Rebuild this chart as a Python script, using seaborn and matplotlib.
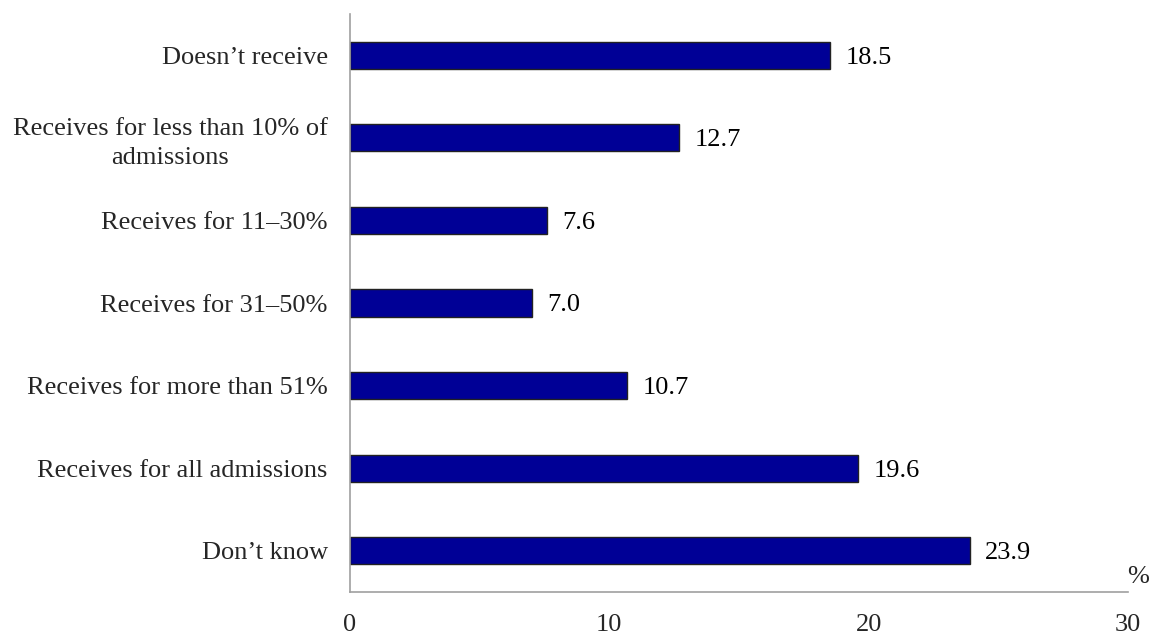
import numpy as np
import pandas as pd
import seaborn as sns
import matplotlib.pyplot as plt
from matplotlib.ticker import FixedLocator

# Data
categories = [
    "Doesn\u2019t receive",
    "Receives for less than 10% of\nadmissions",
    "Receives for 11\u201330%",
    "Receives for 31\u201350%",
    "Receives for more than 51%",
    "Receives for all admissions",
    "Don\u2019t know",
]
values = [18.5, 12.7, 7.6, 7.0, 10.7, 19.6, 23.9]
x_ticks = [0, 10, 20, 30]

df = pd.DataFrame({"category": categories, "value": values})

sns.set_style("white")
plt.rcParams["font.family"] = ["Liberation Serif", "DejaVu Serif"]

fig = plt.figure(figsize=(11.53, 6.34), dpi=100)
ax = fig.add_axes([350 / 1153, 1 - 592 / 634, (1128 - 350) / 1153, (592 - 14) / 634])

sns.barplot(data=df, x="value", y="category", orient="h", color="#000096",
            saturation=1, width=0.33, edgecolor="#222222", linewidth=1.0, ax=ax)

ax.set_xlim(0, 30)
ax.set_ylim(len(categories) - 0.5, -0.5)
ax.set_xticks(x_ticks)
ax.set_xlabel("")
ax.set_ylabel("")

# value labels
for i, v in enumerate(values):
    ax.text(v + 0.6, i + 0.03, f"{v:.1f}", va="center", ha="left", fontsize=19, color="black")

# "%" unit label
ax.text(29.97, 6.39, "%", ha="left", va="baseline", fontsize=19)

for side in ["top", "right"]:
    ax.spines[side].set_visible(False)
for side in ["left", "bottom"]:
    ax.spines[side].set_color("#A0A0A0")
    ax.spines[side].set_linewidth(1.2)

ax.tick_params(axis="y", which="major", length=0, pad=16, labelsize=19)
for lbl in ax.get_yticklabels():
    lbl.set_multialignment("center")
    lbl.set_linespacing(1.4)
ax.yaxis.set_minor_locator(FixedLocator(np.arange(-0.5, len(categories), 1.0)))
ax.tick_params(axis="y", which="minor", length=6, color="#A0A0A0", width=1.2, direction="out")
ax.tick_params(axis="x", which="major", length=6, color="#A0A0A0", width=1.2,
               direction="out", labelsize=19, pad=10)

fig.savefig("out.png", dpi=100)
